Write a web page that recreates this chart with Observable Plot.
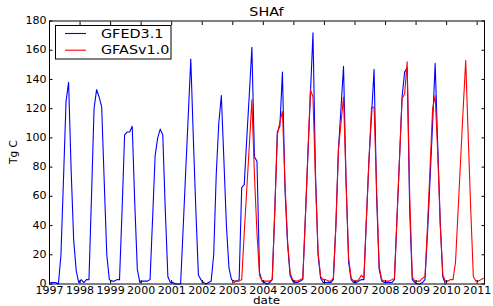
<!DOCTYPE html>
<html><head><meta charset="utf-8">
<script src="https://cdn.jsdelivr.net/npm/d3@7"></script>
<script src="https://cdn.jsdelivr.net/npm/@observablehq/plot@0.6"></script>
<style>
body{margin:0;background:#fff;}
#chart svg{display:block;font-family:"DejaVu Sans",sans-serif;}
</style></head><body><div id="chart"></div>
<script>
const title = "SHAf";
const xLabel = "date";
const yLabel = "Tg C";
const seriesNames = ["GFED3.1", "GFASv1.0"];
const seriesColors = ["#0000ff", "#ff0000"];

// GFED3.1 monthly values, Jan 1997 .. Dec 2009
const gfedStartYear = 1997;
const gfedValues = [
  1,1,1,0,20,72,125,138,78,30,9,1,        // 1997
  3,1,3,3,60,120,133,128,121,70,20,3,     // 1998
  2,2,3,3,50,102,104,104,108,55,10,1,     // 1999
  2,2,2,3,45,88,100,106,102,50,5,1,       // 2000
  1,0,0,0,38,77,115,154,100,50,6,3,       // 2001
  1,0,1,2,20,75,110,129,85,40,11,3,       // 2002
  2,2,3,66,68,100,130,162,87,84,8,2,      // 2003
  1,0,1,3,50,104,108,145,65,28,6,2,       // 2004
  1,1,2,3,45,88,130,172,75,20,4,1,        // 2005
  1,1,1,3,40,92,120,149,70,15,3,1,        // 2006
  1,2,3,3,45,85,115,147,60,10,2,1,        // 2007
  1,1,1,3,45,86,128,145,148,50,3,1,       // 2008
  0,0,1,3,35,72,110,151,95,42,5,0         // 2009
];

// GFASv1.0 monthly values, Jan 2003 .. Mar 2011
const gfasStartYear = 2003;
const gfasValues = [
  1,2,2,3,35,65,95,126,75,35,6,2,         // 2003
  2,2,2,3,50,102,111,118,70,30,8,3,       // 2004
  2,2,3,4,45,90,133,128,70,22,5,3,        // 2005
  3,2,2,4,40,92,110,128,70,18,4,2,        // 2006
  2,3,6,4,45,85,121,121,65,12,3,2,        // 2007
  2,2,3,4,45,86,127,130,152,60,5,2,       // 2008
  2,2,4,5,40,80,120,129,90,40,6,2,        // 2009
  2,3,3,15,50,85,120,153,100,50,5,2,      // 2010
  2,3,4                                   // 2011
];

const xTicks = [1997,1998,1999,2000,2001,2002,2003,2004,2005,2006,2007,2008,2009,2010,2011];
const yTicks = [0,20,40,60,80,100,120,140,160,180];
const xDomain = [1997, 2011.24];
const yDomain = [0, 180];

function toRows(series, startYear, values) {
  return values.map((v, i) => ({series, t: startYear + (i + 0.5) / 12, v}));
}
const rows = [
  ...toRows(seriesNames[0], gfedStartYear, gfedValues),
  ...toRows(seriesNames[1], gfasStartYear, gfasValues)
];

const W = 493, H = 306;
const plot = Plot.plot({
  width: W, height: H,
  marginLeft: 49, marginRight: 9, marginTop: 20.5, marginBottom: 22.5,
  style: {fontFamily: "DejaVu Sans", fontSize: "9.8px", background: "#fff", color: "#000", overflow: "visible"},
  x: {domain: xDomain},
  y: {domain: yDomain},
  color: {domain: seriesNames, range: seriesColors},
  marks: [
    Plot.line(rows, {x: "t", y: "v", z: "series", stroke: "series", strokeWidth: 1.1}),
    Plot.frame({stroke: "#000", strokeWidth: 1}),
    Plot.axisX(xTicks, {anchor: "bottom", tickSize: -3.5, fill: "none", label: null, stroke: "#000"}),
    Plot.axisX(xTicks, {anchor: "top", tickSize: -3.5, fill: "none", label: null, stroke: "#000"}),
    Plot.axisY(yTicks, {anchor: "left", tickSize: -3.5, fill: "none", label: null, stroke: "#000"}),
    Plot.axisY(yTicks, {anchor: "right", tickSize: -3.5, fill: "none", label: null, stroke: "#000"}),
    Plot.axisX(xTicks, {anchor: "bottom", tickSize: 0, tickPadding: 3, tickFormat: d3.format("d"), label: null, fill: "#000"}),
    Plot.axisY(yTicks, {anchor: "left", tickSize: 0, tickPadding: 3, tickFormat: d3.format("d"), label: null, fill: "#000"})
  ]
});
document.getElementById("chart").appendChild(plot);

function stretch(el, sx) {
  const x = parseFloat(el.getAttribute("x")) || 0;
  const tr = el.getAttribute("transform") || "";
  el.setAttribute("x", 0);
  el.setAttribute("transform", `${tr} translate(${x},0) scale(${sx},1)`);
}
d3.select(plot).selectAll('g[aria-label="x-axis tick label"] text, g[aria-label="y-axis tick label"] text')
  .each(function() { stretch(this, 1.13); });

const svg = d3.select(plot);
const fx0 = 49, fx1 = W - 9, fy0 = 20.5, fy1 = H - 22.5;

svg.append("text").text(title)
  .attr("x", (fx0 + fx1) / 2).attr("y", 16.5)
  .attr("text-anchor", "middle").attr("font-size", "11.5px").attr("fill", "#000")
  .each(function() { stretch(this, 1.25); });

svg.append("text").text(xLabel)
  .attr("x", (fx0 + fx1) / 2).attr("y", 304)
  .attr("text-anchor", "middle").attr("font-size", "10px").attr("fill", "#000")
  .each(function() { stretch(this, 1.2); });

svg.append("text").text(yLabel)
  .attr("transform", `translate(16.7,${(fy0 + fy1) / 2}) rotate(-90)`)
  .attr("text-anchor", "middle").attr("font-size", "10.5px").attr("fill", "#000");

const lg = svg.append("g").attr("aria-label", "legend").attr("text-anchor", "start");
lg.append("rect").attr("x", 55.5).attr("y", 25.5).attr("width", 115.5).attr("height", 33.5)
  .attr("fill", "#fff").attr("stroke", "#000").attr("stroke-width", 1);
seriesNames.forEach((name, i) => {
  const cy = 33.5 + i * 16.7;
  lg.append("line").attr("x1", 65).attr("x2", 86).attr("y1", cy).attr("y2", cy)
    .attr("stroke", seriesColors[i]).attr("stroke-width", 1.1);
  lg.append("text").text(name).attr("x", 101).attr("y", cy + 4.2)
    .attr("text-anchor", "start")
    .attr("font-size", "11.5px").attr("fill", "#000")
    .each(function() { stretch(this, 1.25); });
});
</script></body></html>
